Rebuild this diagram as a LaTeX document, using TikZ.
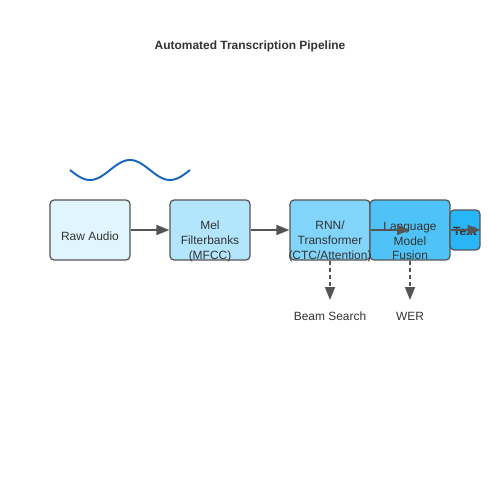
\documentclass[tikz,border=0pt]{standalone}
\usepackage{fontspec}
\setmainfont{Liberation Sans}
\usetikzlibrary{arrows.meta}

\definecolor{edgeGray}{HTML}{555555}
\definecolor{textGray}{HTML}{333333}
\definecolor{waveBlue}{HTML}{1565C0}
\definecolor{rawFill}{HTML}{E1F5FE}
\definecolor{melFill}{HTML}{B3E5FC}
\definecolor{rnnFill}{HTML}{81D4FA}
\definecolor{lmFill}{HTML}{4FC3F7}
\definecolor{txtFill}{HTML}{29B6F6}

\begin{document}
\begin{tikzpicture}[x=0.02cm,y=-0.02cm,
  stage/.style={draw=edgeGray, line width=0.7pt, rounded corners=2.3pt,
    minimum width=1.6cm, minimum height=1.2cm, inner sep=0pt},
  caption/.style={font=\fontsize{6.8}{8.5}\selectfont, text=textGray,
    align=center, inner sep=0pt},
  flow/.style={draw=edgeGray, line width=1pt,
    -{Triangle[length=7.4pt,width=5.7pt]}},
  hint/.style={flow, dash pattern=on 2.3pt off 1.7pt}]

  \useasboundingbox (0,0) rectangle (500,500);

  \node[caption, font=\bfseries\fontsize{6.8}{8.5}\selectfont] (title) at (250,46)
    {Automated Transcription Pipeline};

  % audio wave
  \draw[waveBlue, line width=1.1pt] plot[domain=70:190, samples=80, smooth]
    (\x, {170-10*cos(4.5*(\x-130))});

  \foreach \name/\x/\col in {raw/90/rawFill, mel/210/melFill,
                             rnn/330/rnnFill, lm/410/lmFill}
    \node[stage, fill=\col] (\name) at (\x,230) {};
  \node[stage, fill=txtFill, minimum width=0.6cm, minimum height=0.8cm] (txt) at (465,230) {};

  \node[caption] (rawtxt) at (90,236) {Raw Audio};
  \node[caption] (meltxt) at (210,241) {Mel\\Filterbanks\\(MFCC)};
  \node[caption] (rnntxt) at (330,241) {RNN/\\Transformer\\(CTC/Attention)};
  \node[caption] (lmtxt) at (410,241) {Language\\Model\\Fusion};
  \node[caption, font=\bfseries\fontsize{6.8}{8.5}\selectfont] (txttxt) at (465,231) {Text};

  \coordinate (beamtip) at (330,300);
  \coordinate (wertip) at (410,300);
  \node[caption] (beam) at (330,316) {Beam Search};
  \node[caption] (wer) at (410,316) {WER};

  \foreach \a/\b in {raw.east/mel.west, mel.east/rnn.west,
                     rnn.east/lm.center, lm.east/txt.east}
    \draw[flow] (\a) -- (\b);
  \draw[hint] (rnn.south) -- (beamtip);
  \draw[hint] (lm.south) -- (wertip);

\end{tikzpicture}
\end{document}
